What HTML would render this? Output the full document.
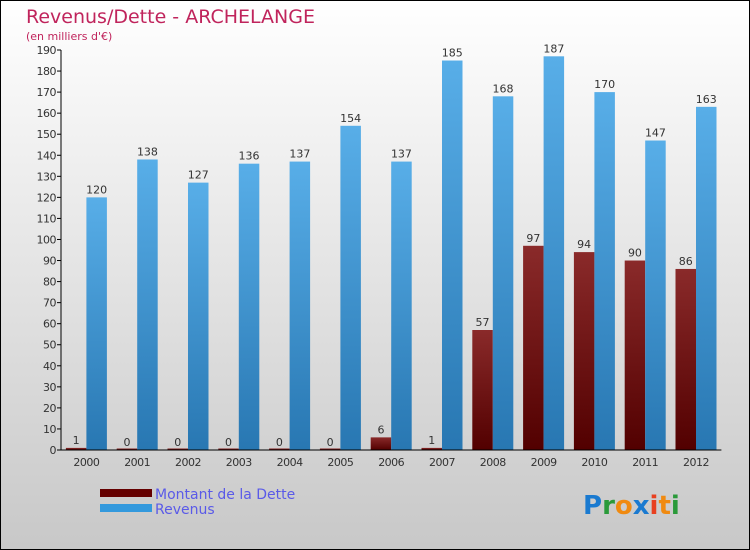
<!DOCTYPE html>
<html><head><meta charset="utf-8"><style>
body{margin:0}
svg{display:block;font-family:"DejaVu Sans","Liberation Sans",sans-serif}
</style></head><body>
<svg width="750" height="550" id="c">
<defs>
<linearGradient id="bg" x1="0" y1="0" x2="0" y2="1"><stop offset="0" stop-color="#ffffff"/><stop offset="1" stop-color="#c8c8c8"/></linearGradient>
<linearGradient id="gb" x1="0" y1="0" x2="0" y2="1"><stop offset="0" stop-color="#58aee8"/><stop offset="1" stop-color="#2877b2"/></linearGradient>
<linearGradient id="gr" x1="0" y1="0" x2="0" y2="1"><stop offset="0" stop-color="#8a2a2a"/><stop offset="1" stop-color="#520000"/></linearGradient>
</defs>
<rect x="0.5" y="0.5" width="749" height="549" fill="url(#bg)" stroke="#000"/>
<text x="26" y="23" font-size="19" fill="#c0245c">Revenus/Dette - ARCHELANGE</text>
<text x="26" y="40" font-size="11" fill="#c0245c">(en milliers d'€)</text>
<g id="plot"></g>
<g>
<rect x="100" y="489" width="52" height="8" fill="#650000"/>
<text x="155" y="499" font-size="14" fill="#5a5ae8">Montant de la Dette</text>
<rect x="100" y="504" width="52" height="8" fill="#3399dd"/>
<text x="155" y="514" font-size="14" fill="#5a5ae8">Revenus</text>
</g>
<text x="583" y="514" font-size="26" font-weight="bold"><tspan fill="#1a7ad0">P</tspan><tspan fill="#2a9a3a">r</tspan><tspan fill="#f08a10">o</tspan><tspan fill="#1a7ad0">x</tspan><tspan fill="#e84020">i</tspan><tspan fill="#f08a10">t</tspan><tspan fill="#2a9a3a">i</tspan></text>
</svg>
<script>
const years=["2000","2001","2002","2003","2004","2005","2006","2007","2008","2009","2010","2011","2012"];
const dette=[1,0,0,0,0,0,6,1,57,97,94,90,86];
const revenus=[120,138,127,136,137,154,137,185,168,187,170,147,163];
const yTicks=[0,10,20,30,40,50,60,70,80,90,100,110,120,130,140,150,160,170,180,190];
const NS="http://www.w3.org/2000/svg";
const g=document.getElementById('plot');
const x0=61,y0=450,yTop=50,yMax=190,gw=50.8,bw=20.5;
const y=v=>y0-(v/yMax)*(y0-yTop);
function mk(t,a,txt){const e=document.createElementNS(NS,t);for(const k in a)e.setAttribute(k,a[k]);if(txt!==undefined)e.textContent=txt;g.appendChild(e);return e;}
yTicks.forEach(t=>{
 const l=mk('line',{x1:x0-4,x2:x0,y1:y(t),y2:y(t),stroke:'#000'});
 
 
 const tx=mk('text',{x:x0-5,y:y(t)+4,'font-size':11,'text-anchor':'end',fill:'#333','letter-spacing':'-0.5'},t);
 
 
});
years.forEach((yr,i)=>{
 const c=x0+gw*(i+0.5);
 const hd=Math.max(y0-y(dette[i]),1.5);
 const b1=mk('rect',{x:c-bw,y:y0-hd,width:bw,height:hd,fill:'url(#gr)'});
 
 
 const b2=mk('rect',{x:c,y:y(revenus[i]),width:bw,height:y0-y(revenus[i]),fill:'url(#gb)'});
 
 
 const t1=mk('text',{x:c-bw/2,y:y(dette[i])-4,'font-size':11,'text-anchor':'middle',fill:'#333'},dette[i]);
 
 
 const t2=mk('text',{x:c+bw/2,y:y(revenus[i])-4,'font-size':11,'text-anchor':'middle',fill:'#333'},revenus[i]);
 
 
 const xl=mk('text',{x:c,y:466,'font-size':11,'text-anchor':'middle',fill:'#333','letter-spacing':'-0.5'},yr);
 
 
});
const ya=mk('line',{x1:x0,x2:x0,y1:yTop,y2:y0,stroke:'#000'});


const xa=mk('line',{x1:x0,x2:x0+gw*years.length,y1:y0,y2:y0,stroke:'#000'});


</script>
</body></html>
